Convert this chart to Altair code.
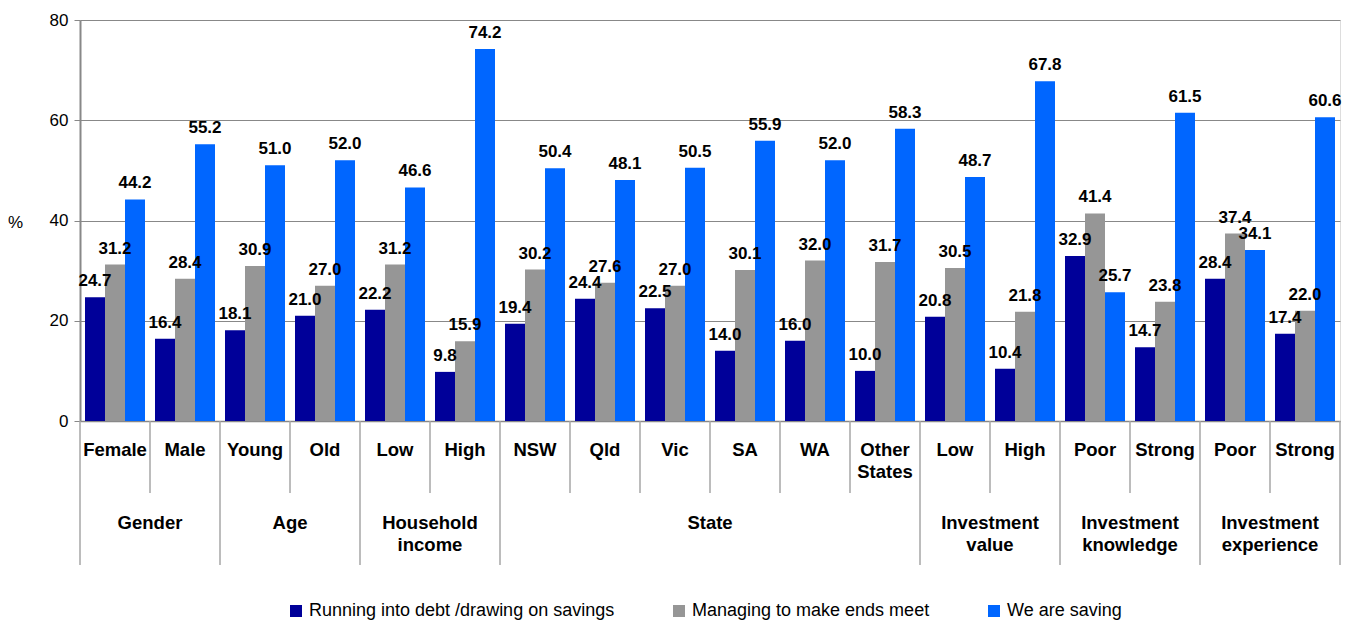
import altair as alt
import pandas as pd

categories = ["Female", "Male", "Young", "Old", "Low", "High", "NSW", "Qld", "Vic", "SA", "WA",
              "Other\nStates", "Low", "High", "Poor", "Strong", "Poor", "Strong"]
debt = [24.7, 16.4, 18.1, 21.0, 22.2, 9.8, 19.4, 24.4, 22.5, 14.0, 16.0, 10.0, 20.8, 10.4, 32.9, 14.7, 28.4, 17.4]
managing = [31.2, 28.4, 30.9, 27.0, 31.2, 15.9, 30.2, 27.6, 27.0, 30.1, 32.0, 31.7, 30.5, 21.8, 41.4, 23.8, 37.4, 22.0]
saving = [44.2, 55.2, 51.0, 52.0, 46.6, 74.2, 50.4, 48.1, 50.5, 55.9, 52.0, 58.3, 48.7, 67.8, 25.7, 61.5, 34.1, 60.6]
series = ["Running into debt /drawing on savings", "Managing to make ends meet", "We are saving"]
groups = ["Gender", "Age", "Household\nincome", "State", "Investment\nvalue",
          "Investment\nknowledge", "Investment\nexperience"]
group_sizes = [2, 2, 2, 6, 2, 2, 2]
colors = ["#000099", "#969696", "#0066FF"]

keys = [f"{i:02d}" for i in range(len(categories))]
rows = []
for i, k in enumerate(keys):
    for s, vals in zip(series, [debt, managing, saving]):
        rows.append({"k": k, "series": s, "value": vals[i]})
df = pd.DataFrame(rows)
cat_df = pd.DataFrame({"k": keys, "label": categories})

# group boundaries and centres
starts = []
acc = 0
for n in group_sizes:
    starts.append(acc)
    acc += n
major = starts + [acc]
minor = [b for b in range(1, acc) if b not in major]
grp_df = pd.DataFrame({"pos": [s + n / 2 for s, n in zip(starts, group_sizes)], "label": groups})
major_df = pd.DataFrame({"pos": major})
minor_df = pd.DataFrame({"pos": minor})

FONT = "Liberation Sans"
GRAY = "#888888"

band_scale = alt.Scale(paddingInner=0, paddingOuter=0)
x_band = alt.X("k:N", sort=keys, scale=band_scale,
               axis=alt.Axis(labels=False, ticks=False, title=None, domain=True,
                             domainColor=GRAY, domainWidth=1.5, grid=False))
x_band_noaxis = alt.X("k:N", sort=keys, scale=band_scale, axis=None)
x_off = alt.XOffset("series:N", sort=series, scale=alt.Scale(paddingInner=0, paddingOuter=0.25))
y_enc = alt.Y("value:Q", scale=alt.Scale(domain=[0, 80]),
              axis=alt.Axis(values=[0, 20, 40, 60, 80], grid=True, gridColor=GRAY,
                            domainColor=GRAY, domainWidth=2, tickColor=GRAY, tickSize=6,
                            labelPadding=6,
                            labelFontSize=17, labelColor="black", title="%", titleAngle=0,
                            titleX=-65, titleY=202, titleAlign="center", titleBaseline="middle",
                            titleFontSize=17, titleFontWeight="normal", titleColor="black"))

bars = alt.Chart(df).mark_bar().encode(
    x=x_band, xOffset=x_off, y=y_enc,
    color=alt.Color("series:N", sort=series, scale=alt.Scale(domain=series, range=colors),
                    legend=alt.Legend(title=None, orient="none", legendX=207, legendY=582,
                                      direction="horizontal", symbolType="square",
                                      symbolSize=144, symbolStrokeWidth=0, labelFontSize=18,
                                      labelOffset=4, columnPadding=55, labelLimit=500,
                                      labelColor="black")),
)

values = alt.Chart(df).mark_text(baseline="alphabetic", dy=-11, fontSize=17, fontWeight="bold",
                                 color="black").encode(
    x=x_band_noaxis, xOffset=x_off, y=alt.Y("value:Q"),
    text=alt.Text("value:Q", format=".1f"),
)

cat_labels = alt.Chart(cat_df).mark_text(lineBreak="\n", fontWeight="bold", fontSize=18.5,
                                         baseline="alphabetic", lineHeight=22, color="black").encode(
    x=x_band_noaxis, y=alt.value(436), text="label:N",
)

xq = dict(scale=alt.Scale(domain=[0, 18], nice=False, zero=False), axis=None)

major_rules = alt.Chart(major_df).mark_rule(color="#a6a6a6", strokeWidth=1.5).encode(
    x=alt.X("pos:Q", **xq), y=alt.value(401), y2=alt.value(545))
minor_rules = alt.Chart(minor_df).mark_rule(color="#a6a6a6", strokeWidth=1.5).encode(
    x=alt.X("pos:Q", **xq), y=alt.value(401), y2=alt.value(473))
grp_labels = alt.Chart(grp_df).mark_text(lineBreak="\n", fontWeight="bold", fontSize=18.5,
                                         baseline="alphabetic", lineHeight=22, color="black").encode(
    x=alt.X("pos:Q", **xq), y=alt.value(509), text="label:N")

chart = alt.layer(bars, values, cat_labels, major_rules, minor_rules, grp_labels).resolve_scale(
    x="independent"
).properties(
    width=1260, height=401,
    autosize=alt.AutoSizeParams(type="none"),
    padding={"left": 72, "top": 12, "right": 11, "bottom": 200},
).configure_view(stroke=None).configure(font=FONT)

chart.save("out.html", embed_options={"renderer": "svg", "actions": False})
